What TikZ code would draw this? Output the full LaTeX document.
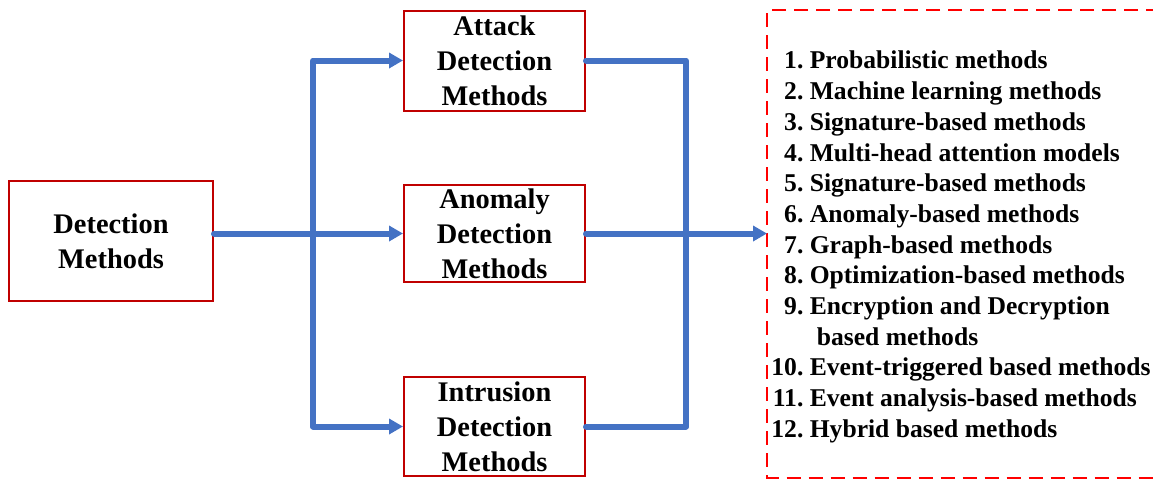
\documentclass[tikz,border=0pt]{standalone}
\usepackage{fontspec}
\setmainfont{Liberation Serif}
\usetikzlibrary{arrows.meta}
\definecolor{boxred}{HTML}{C00000}
\definecolor{lineblue}{HTML}{4472C4}
\begin{document}
\begin{tikzpicture}[x=0.5pt, y=-0.5pt,
	main/.style = {draw=boxred, line width=1pt, inner sep=0pt, minimum width=90.5pt, minimum height=50pt, align=center, font=\fontsize{14.2}{17.5}\selectfont\bfseries},
	link/.style = {draw=lineblue, line width=3pt, line cap=round, line join=round},
	tip/.style = {-{Triangle[length=7pt, width=7.5pt]}}]
	\useasboundingbox (0,0) rectangle (1153,478);
	\node[main, minimum width=102pt, minimum height=60pt] (det) at (111,241) {Detection\\Methods};
	\node[main] (att) at (494.5,60.5) {Attack\\Detection\\Methods};
	\node[main, minimum height=48.5pt] (ano) at (494.5,233.5) {Anomaly\\Detection\\Methods};
	\node[main, minimum height=49.5pt] (int) at (494.5,426.5) {Intrusion\\Detection\\Methods};
	\coordinate (ftop) at (1160,10);
	\coordinate (fbot) at (1160,477.5);
	\coordinate (fleft) at (767,233);
	\draw[red, line width=1pt, dash pattern=on 7pt off 4pt] (ftop) -| (fbot -| fleft) -- (fbot);
	\node[anchor=west, inner sep=0pt, font=\fontsize{12.8}{15.35}\selectfont\bfseries] (list) at (771,247) {%
		\begin{tabular}{@{}r@{\ }l@{}}
			1. & Probabilistic methods\\
			2. & Machine learning methods\\
			3. & Signature-based methods\\
			4. & Multi-head attention models\\
			5. & Signature-based methods\\
			6. & Anomaly-based methods\\
			7. & Graph-based methods\\
			8. & Optimization-based methods\\
			9. & Encryption and Decryption\\
			& \hspace{3.5pt}based methods\\
			10. & Event-triggered based methods\\
			11. & Event analysis-based methods\\
			12. & Hybrid based methods
		\end{tabular}};
	\coordinate (jl) at (313,233);
	\coordinate (jr) at (686,233);
	\draw[link, tip] (det.east |- ano.west) -- (ano.west);
	\draw[link, tip] (jl) |- (att.west);
	\draw[link, tip] (jl) |- (int.west);
	\draw[link] (att.east) -| (jr);
	\draw[link] (int.east) -| (jr);
	\draw[link, tip] (ano.east) -- (ano.east -| fleft);
\end{tikzpicture}
\end{document}
